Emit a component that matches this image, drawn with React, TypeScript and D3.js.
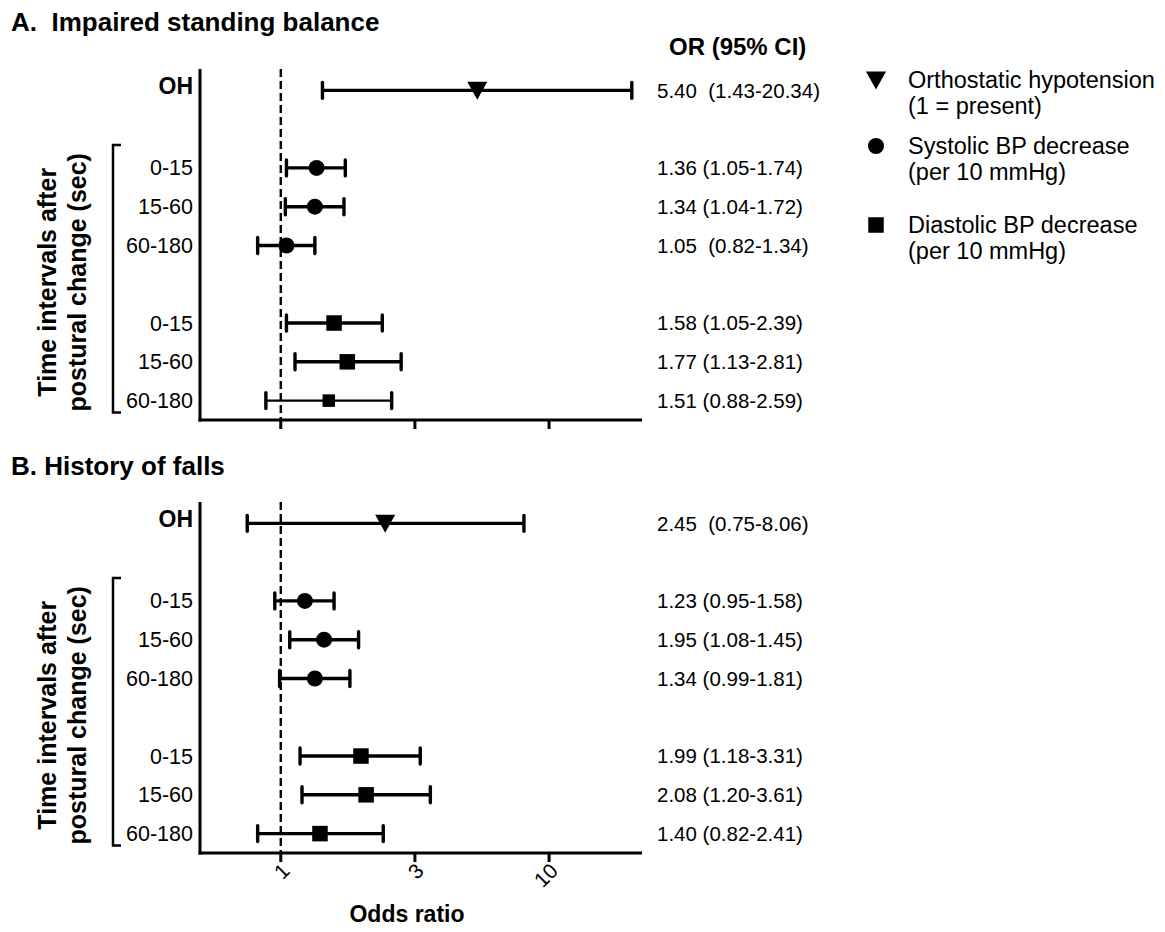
import React from 'react';
import * as d3 from 'd3';

const FONT = '"Liberation Sans", Arial, Helvetica, sans-serif';

// Rows of each forest plot (top to bottom) and their vertical slot
const rowLabels = ['OH', '0-15', '15-60', '60-180', '0-15', '15-60', '60-180'];
const rowSlots = [0, 2, 3, 4, 6, 7, 8];
const rowMarkers = ['triangle', 'circle', 'circle', 'circle', 'square', 'square', 'square'];

// A. Impaired standing balance
const balanceOR = [5.4, 1.36, 1.34, 1.05, 1.58, 1.77, 1.51];
const balanceLow = [1.43, 1.05, 1.04, 0.82, 1.05, 1.13, 0.88];
const balanceHigh = [20.34, 1.74, 1.72, 1.34, 2.39, 2.81, 2.59];
const balanceText = [
  '5.40  (1.43-20.34)',
  '1.36 (1.05-1.74)',
  '1.34 (1.04-1.72)',
  '1.05  (0.82-1.34)',
  '1.58 (1.05-2.39)',
  '1.77 (1.13-2.81)',
  '1.51 (0.88-2.59)',
];

// B. History of falls
const fallsOR = [2.45, 1.23, 1.45, 1.34, 1.99, 2.08, 1.4];
const fallsLow = [0.75, 0.95, 1.08, 0.99, 1.18, 1.2, 0.82];
const fallsHigh = [8.06, 1.58, 1.95, 1.81, 3.31, 3.61, 2.41];
const fallsText = [
  '2.45  (0.75-8.06)',
  '1.23 (0.95-1.58)',
  '1.95 (1.08-1.45)',
  '1.34 (0.99-1.81)',
  '1.99 (1.18-3.31)',
  '2.08 (1.20-3.61)',
  '1.40 (0.82-2.41)',
];

// Log axis ticks
const tickValues = [1, 3.1623, 10];
const tickLabels = ['1', '3', '10'];
const xDomain = [0.5, 22.2];

// Legend entries
const legendMarkers = ['triangle', 'circle', 'square'];
const legendLines = [
  ['Orthostatic hypotension', '(1 = present)'],
  ['Systolic BP decrease', '(per 10 mmHg)'],
  ['Diastolic BP decrease', '(per 10 mmHg)'],
];

const panels = [
  {
    title: 'A.  Impaired standing balance',
    or: balanceOR,
    lo: balanceLow,
    hi: balanceHigh,
    text: balanceText,
    top: 69,
    bottom: 420,
    titleY: 31,
    tickText: false,
    thinRow: 6,
  },
  {
    title: 'B. History of falls',
    or: fallsOR,
    lo: fallsLow,
    hi: fallsHigh,
    text: fallsText,
    top: 502,
    bottom: 853,
    titleY: 475,
    tickText: true,
    thinRow: -1,
  },
];

function Marker({ kind, cx, cy, small }: { kind: string; cx: number; cy: number; small?: boolean }) {
  if (kind === 'circle') return <circle cx={cx} cy={cy} r={8} fill="#000" />;
  if (kind === 'square') {
    const s = small ? 12.5 : 15.5;
    return <rect x={cx - s / 2} y={cy - s / 2} width={s} height={s} fill="#000" />;
  }
  const p = d3.path();
  p.moveTo(cx - 10, cy - 8.5);
  p.lineTo(cx + 10, cy - 8.5);
  p.lineTo(cx, cy + 9.5);
  p.closePath();
  return <path d={p.toString()} fill="#000" />;
}

function Panel({ cfg }: { cfg: (typeof panels)[number] }) {
  const x = d3.scaleLog().domain(xDomain).range([200, 642]);
  const y = d3.scaleLinear().domain([-0.55, 8.5]).range([cfg.top, cfg.bottom]);
  const bracketTop = y(2) - 23;
  const bracketBottom = y(8) + 12;
  const labelCy = (y(2) + y(8)) / 2 - 2;

  return (
    <g>
      <text x={11} y={cfg.titleY} fontFamily={FONT} fontWeight="bold" fontSize={26} xmlSpace="preserve" style={{ whiteSpace: 'pre' }}>
        {cfg.title}
      </text>

      {/* axes */}
      <line x1={200} x2={200} y1={cfg.top} y2={cfg.bottom + 1.5} stroke="#000" strokeWidth={3} />
      <line x1={198.5} x2={642} y1={cfg.bottom} y2={cfg.bottom} stroke="#000" strokeWidth={3} />
      {tickValues.map((t, i) => (
        <g key={i}>
          <line x1={x(t)} x2={x(t)} y1={cfg.bottom} y2={cfg.bottom + 9} stroke="#000" strokeWidth={3} />
          {cfg.tickText && (
            <text
              transform={`translate(${x(t) + 5},${cfg.bottom + 14}) rotate(-45)`}
              textAnchor="end"
              dy="0.35em"
              fontFamily={FONT}
              fontSize={21}
            >
              {tickLabels[i]}
            </text>
          )}
        </g>
      ))}

      {/* reference line at OR = 1 */}
      <line x1={x(1)} x2={x(1)} y1={cfg.top} y2={cfg.bottom} stroke="#000" strokeWidth={2.4} strokeDasharray="8,4" />

      {/* estimates with 95% CI */}
      {cfg.or.map((v, i) => {
        const cy = y(rowSlots[i]);
        const thin = i === cfg.thinRow;
        const sw = thin ? 2.4 : 3.4;
        return (
          <g key={i}>
            <line x1={x(cfg.lo[i])} x2={x(cfg.hi[i])} y1={cy} y2={cy} stroke="#000" strokeWidth={sw} />
            <line x1={x(cfg.lo[i])} x2={x(cfg.lo[i])} y1={cy - 8} y2={cy + 8} stroke="#000" strokeWidth={3.4} strokeLinecap="round" />
            <line x1={x(cfg.hi[i])} x2={x(cfg.hi[i])} y1={cy - 8} y2={cy + 8} stroke="#000" strokeWidth={3.4} strokeLinecap="round" />
            <Marker kind={rowMarkers[i]} cx={x(v)} cy={cy} small={thin} />
            <text
              x={193}
              y={cy}
              dy={i === 0 ? '0.15em' : '0.35em'}
              textAnchor="end"
              fontFamily={FONT}
              fontSize={i === 0 ? 23 : 21.5}
              fontWeight={i === 0 ? 'bold' : 'normal'}
            >
              {rowLabels[i]}
            </text>
            <text x={657} y={cy} dy="0.35em" fontFamily={FONT} fontSize={20.5} xmlSpace="preserve" style={{ whiteSpace: 'pre' }}>
              {cfg.text[i]}
            </text>
          </g>
        );
      })}

      {/* bracket grouping the time intervals */}
      <path
        d={`M121,${bracketTop} H113 V${bracketBottom} H121`}
        fill="none"
        stroke="#000"
        strokeWidth={2.5}
      />
      <g transform={`translate(0,${labelCy})`} fontFamily={FONT} fontWeight="bold" fontSize={25} textAnchor="middle">
        <text transform="translate(56,0) rotate(-90)">Time intervals after</text>
        <text transform="translate(86,0) rotate(-90)">postural change (sec)</text>
      </g>
    </g>
  );
}

export default function App() {
  return (
    <svg
      width={1165}
      height={932}
      viewBox="0 0 1165 932"
      style={{ position: 'absolute', left: 0, top: 0, background: '#fff' }}
    >
      <rect width={1165} height={932} fill="#fff" />
      {panels.map((p, i) => (
        <Panel key={i} cfg={p} />
      ))}

      <text x={669} y={55} fontFamily={FONT} fontWeight="bold" fontSize={24}>
        OR (95% CI)
      </text>

      {/* legend */}
      {legendMarkers.map((m, i) => {
        const cy = [80, 146, 225][i];
        return (
          <g key={i}>
            <Marker kind={m} cx={876} cy={cy} />
            <text x={908} y={cy + 8} fontFamily={FONT} fontSize={23.5}>
              {legendLines[i][0]}
            </text>
            <text x={908} y={cy + 34} fontFamily={FONT} fontSize={23.5}>
              {legendLines[i][1]}
            </text>
          </g>
        );
      })}

      <text x={407} y={922} textAnchor="middle" fontFamily={FONT} fontWeight="bold" fontSize={23}>
        Odds ratio
      </text>
    </svg>
  );
}
